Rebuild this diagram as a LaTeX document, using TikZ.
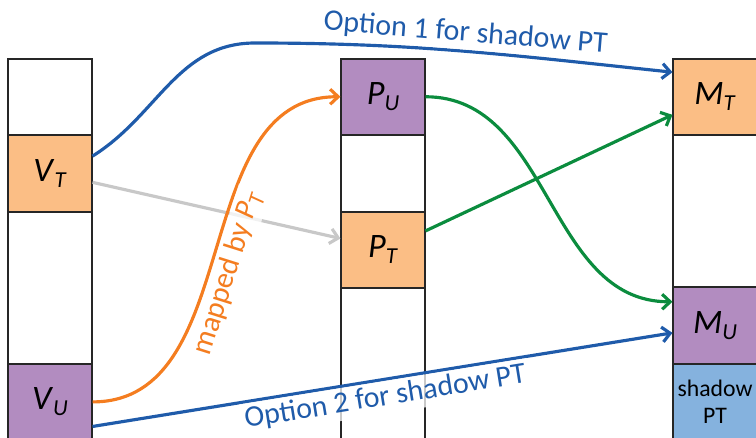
\documentclass[tikz,border=0pt]{standalone}
\usepackage{fontspec}
\setmainfont{Carlito}
\usetikzlibrary{positioning, arrows.meta}

\definecolor{tfill}{HTML}{FBBE85}
\definecolor{ufill}{HTML}{B28CC0}
\definecolor{sfill}{HTML}{85B2DE}
\definecolor{optblue}{HTML}{1F5BAA}
\definecolor{maporange}{HTML}{F47D20}
\definecolor{mapgreen}{HTML}{0B8C3E}
\definecolor{mapgray}{HTML}{C8C8C8}

\newcommand{\cellvar}[2]{\textit{#1}\raisebox{-0.35ex}{\fontsize{13}{14}\selectfont\textit{#2}}}

\begin{document}
\begin{tikzpicture}[
    node distance=0pt,
    >={Straight Barb[length=1.6mm, width=3mm]},
    cell/.style={rectangle, draw=black!85, line width=0.6pt, fill=#1, minimum width=1.68cm, minimum height=1.51cm, inner sep=0pt, align=center, font=\fontsize{19.5}{22}\selectfont},
    cell/.default=white,
    tall/.style={cell, minimum height=3.02cm},
    link/.style={->, line width=1.8pt, draw=#1},
    lbl/.style={font=\fontsize{17}{20}\selectfont, text=#1, fill=white, fill opacity=0.75, text opacity=1, inner sep=2pt}
]
\useasboundingbox (0,0) rectangle (15.12,8.74);

% virtual address space
\node[cell] (vtop) at (1.0,6.805) {};
\node[cell=tfill, below=of vtop] (vt) {\cellvar{V}{T}};
\node[tall, below=of vt] (vmid) {};
\node[cell=ufill, below=of vmid] (vu) {\cellvar{V}{U}};

% physical pages
\node[cell=ufill] (pu) at (7.66,6.805) {\cellvar{P}{U}};
\node[cell, below=of pu] (pmid) {};
\node[cell=tfill, below=of pmid] (pt) {\cellvar{P}{T}};
\node[tall, below=of pt] (plow) {};

% machine memory
\node[cell=tfill] (mt) at (14.30,6.805) {\cellvar{M}{T}};
\node[tall, below=of mt] (mmid) {};
\node[cell=ufill, below=of mmid] (mu) {\cellvar{M}{U}};
\node[cell=sfill, below=of mu, font=\fontsize{13.5}{15}\selectfont] (spt) {shadow\\PT};

\coordinate (crest) at (5.1,7.88);

\draw[link=mapgray] (vt.-12) -- (pt.165);
\draw[link=maporange] (vu.east) to[out=0, in=180]
    node[lbl=maporange, pos=0.46, sloped, below] {mapped by \cellvar{P}{T}} (pu.west);
\draw[link=mapgreen] (pu.east) to[out=0, in=180] (mu.151);
\draw[link=mapgreen] (pt.24) -- (mt.203);
\draw[link=optblue] (vt.22) to[out=32, in=180] (crest)
    to[out=0, in=174] node[lbl=optblue, sloped, above, pos=0.5] {Option 1 for shadow PT} (mt.150);
\draw[link=optblue] (vu.-30) -- node[lbl=optblue, sloped, below, pos=0.5] {Option 2 for shadow PT} (mu.190);

\end{tikzpicture}
\end{document}
